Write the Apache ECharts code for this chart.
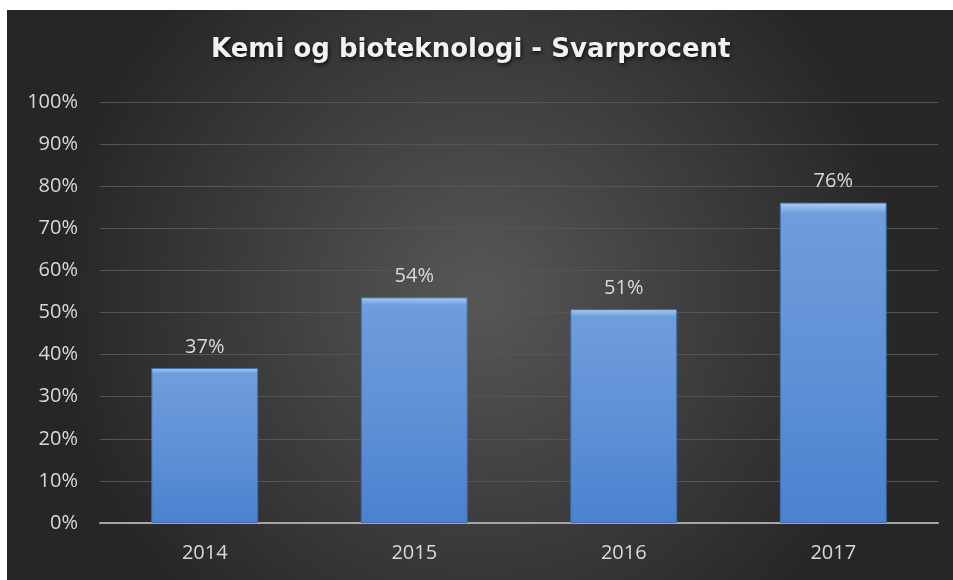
<!DOCTYPE html>
<html><head><meta charset="utf-8">
<script src="https://cdn.jsdelivr.net/npm/echarts@6/dist/echarts.min.js"></script>
<style>html,body{margin:0;padding:0;background:#fff;}#c{position:absolute;left:7px;top:10px;width:946px;height:570px;}</style>
</head><body><div id="c"></div>
<script>
var categories = ['2014', '2015', '2016', '2017'];
var values = [36.8, 53.6, 50.8, 76.1];
var labels = ['37%', '54%', '51%', '76%'];
var titleText = 'Kemi og bioteknologi - Svarprocent';

var chart = echarts.init(document.getElementById('c'));
chart.setOption({
  backgroundColor: {
    type: 'radial', x: 0.5, y: 0.5, r: 0.75,
    colorStops: [{offset: 0, color: '#575757'}, {offset: 1, color: '#262626'}]
  },
  animation: false,
  title: {
    text: titleText, left: 199, top: 22,
    textStyle: {
      color: '#f2f2f2', fontFamily: 'DejaVu Sans', fontWeight: 'bold', fontSize: 26,
      textShadowColor: 'rgba(0,0,0,0.8)', textShadowBlur: 4, textShadowOffsetX: 1, textShadowOffsetY: 2
    }
  },
  grid: {left: 93, right: 15, top: 92, bottom: 57},
  xAxis: {
    type: 'category', data: categories,
    axisLine: {lineStyle: {color: '#a6a6a6', width: 2}},
    axisTick: {show: false},
    axisLabel: {color: '#d9d9d9', fontSize: 20, margin: 20, fontFamily: 'Open Sans'}
  },
  yAxis: {
    type: 'value', min: 0, max: 100, interval: 10,
    axisLabel: {formatter: '{value}%', color: '#d9d9d9', fontSize: 20, margin: 22, fontFamily: 'Open Sans'},
    splitLine: {lineStyle: {color: '#555555', width: 1}},
    axisLine: {show: false}, axisTick: {show: false}
  },
  series: [{
    type: 'bar', data: values, barWidth: '51%',
    itemStyle: {
      color: {
        type: 'linear', x: 0, y: 0, x2: 0, y2: 1,
        colorStops: [
          {offset: 0, color: '#a9cdf5'},
          {offset: 0.035, color: '#6f9ddc'},
          {offset: 0.5, color: '#5f91d6'},
          {offset: 1, color: '#4a82cf'}
        ]
      },
      borderColor: '#3f6faf', borderWidth: 1
    },
    label: {
      show: true, position: 'top', distance: 11, color: '#d9d9d9', fontSize: 20, fontFamily: 'Open Sans',
      formatter: function (p) { return labels[p.dataIndex]; }
    }
  }]
});
</script></body></html>
